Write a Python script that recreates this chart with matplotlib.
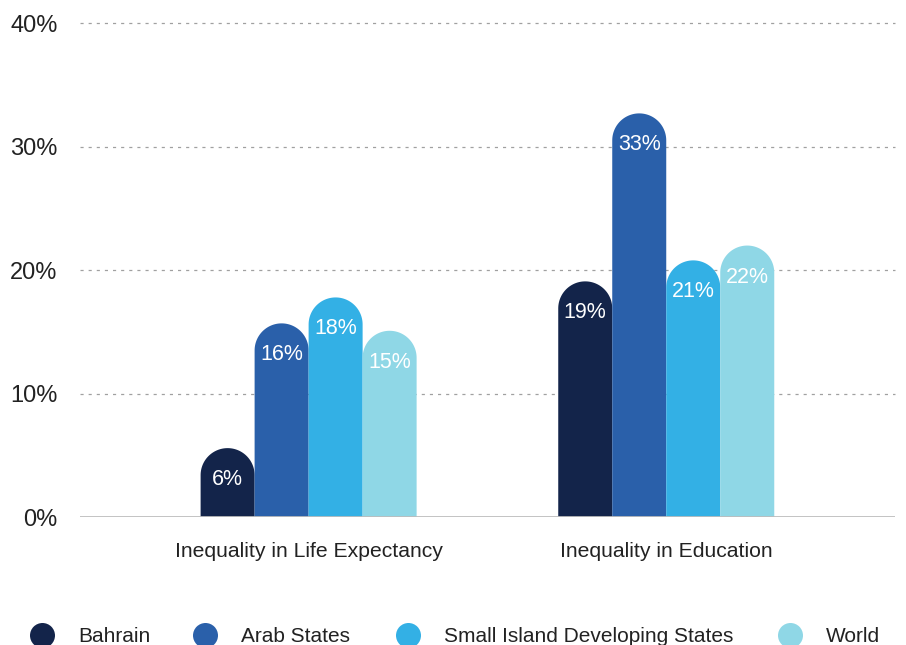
import numpy as np
import matplotlib.pyplot as plt
from matplotlib.patches import Polygon
from matplotlib.lines import Line2D

plt.rcParams['font.family'] = ['Liberation Sans', 'DejaVu Sans']

categories = ["Inequality in Life Expectancy", "Inequality in Education"]
series = ["Bahrain", "Arab States", "Small Island Developing States", "World"]
values = [
    [5.6, 15.7, 17.8, 15.1],
    [19.1, 32.7, 20.8, 22.0],
]
colors = ["#13244a", "#2a60aa", "#33b0e5", "#8fd7e6"]

fig = plt.figure(figsize=(9.06, 6.45), dpi=100)
ax = fig.add_axes([0.088, 0.198, 0.9, 0.766])
ax.set_xlim(-0.64, 1.64)
ax.set_ylim(0, 40)

bar_w = 0.151
# semicircle radius in data units along y, from the pixel aspect
fig.canvas.draw()
bbox = ax.get_window_extent()
px_per_x = bbox.width / (ax.get_xlim()[1] - ax.get_xlim()[0])
px_per_y = bbox.height / (ax.get_ylim()[1] - ax.get_ylim()[0])
r_y = (bar_w / 2) * px_per_x / px_per_y

theta = np.linspace(0, np.pi, 60)
for ci, cat in enumerate(categories):
    for si, name in enumerate(series):
        v = values[ci][si]
        xc = ci + (si - 1.5) * bar_w
        yc = v - r_y
        arc_x = xc + (bar_w / 2) * np.cos(theta)
        arc_y = yc + r_y * np.sin(theta)
        pts = [(xc + bar_w / 2, 0)] + list(zip(arc_x, arc_y)) + [(xc - bar_w / 2, 0)]
        ax.add_patch(Polygon(pts, closed=True, facecolor=colors[si],
                             edgecolor='none', zorder=3))
        ax.text(xc, v - 2.55, f"{v:.0f}%", ha='center', va='center',
                color='white', fontsize=15.5, zorder=4)

ax.set_yticks([0, 10, 20, 30, 40])
ax.set_yticklabels(["0%", "10%", "20%", "30%", "40%"])
ax.set_xticks([0, 1])
ax.set_xticklabels(categories)
ax.tick_params(axis='y', length=0, pad=16, labelsize=17, labelcolor='#222222')
ax.tick_params(axis='x', length=0, pad=18, labelsize=15.2, labelcolor='#222222')
for y in [10, 20, 30, 40]:
    ax.axhline(y, color='#a0a0a0', linewidth=0.9, linestyle=(0, (2.5, 4)), zorder=1,
               clip_on=False)
ax.axhline(0, color='#bdbdbd', linewidth=2, zorder=5)
for s in ax.spines.values():
    s.set_visible(False)

# legend, placed by hand
marker_x = [42, 205, 408, 790]
leg_y = 1 - 635 / 645
for c, name, mx in zip(colors, series, marker_x):
    fig.add_artist(Line2D([mx / 906], [leg_y], marker='o', linestyle='none',
                          markersize=18, markerfacecolor=c, markeredgecolor='none',
                          transform=fig.transFigure))
    fig.text((mx + 36) / 906, leg_y, name, ha='left', va='center_baseline',
             fontsize=15, color='#222222')

fig.savefig("out.png", dpi=100)
